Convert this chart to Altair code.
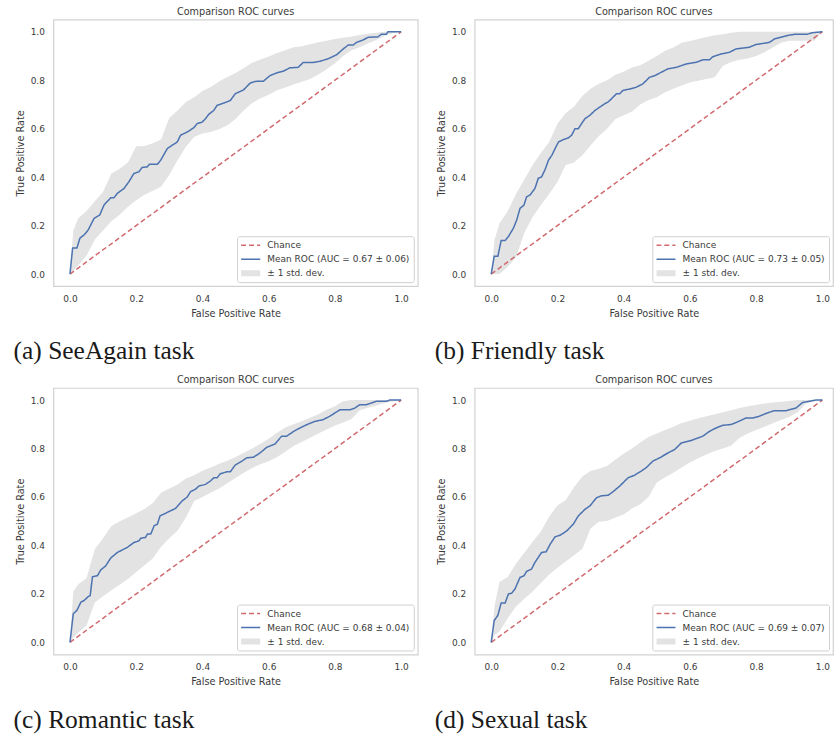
import altair as alt
import pandas as pd

# ---------------------------------------------------------------- data
CAPTIONS = ["(a) SeeAgain task", "(b) Friendly task", "(c) Romantic task", "(d) Sexual task"]
AUC_TEXT = ["0.67 ± 0.06", "0.73 ± 0.05", "0.68 ± 0.04", "0.69 ± 0.07"]

CHANCE_FPR = [0.0, 1.0]
CHANCE_TPR = [0.0, 1.0]

TICKS = [0.0, 0.2, 0.4, 0.6, 0.8, 1.0]

# common FPR grid of the ±1 std. dev. band
BAND_FPR = [0.0, 0.01, 0.025, 0.05, 0.075, 0.1, 0.125, 0.15, 0.175, 0.2, 0.225,
            0.25, 0.275, 0.3, 0.325, 0.35, 0.375, 0.4, 0.425, 0.45, 0.475, 0.5,
            0.525, 0.55, 0.575, 0.6, 0.625, 0.65, 0.675, 0.7, 0.725, 0.75, 0.775,
            0.8, 0.825, 0.85, 0.875, 0.9, 0.925, 0.95, 0.975, 1.0]

# (a) SeeAgain
A_FPR = [0, .008, .021, .03, .043, .055, .073, .09, .103, .123, .133, .143, .163, .178, .193,
         .208, .218, .233, .24, .264, .274, .294, .309, .324, .334, .354, .374, .384, .399, .409,
         .419, .434, .444, .459, .484, .499, .524, .544, .559, .584, .604, .624, .644, .664, .689,
         .704, .734, .754, .779, .805, .825, .84, .855, .865, .885, .9, .93, .94, .955, .96, 1.0]
A_TPR = [0, .107, .107, .148, .162, .182, .23, .244, .285, .315, .315, .333, .353, .381, .415,
         .422, .44, .442, .453, .453, .47, .518, .532, .545, .573, .586, .604, .621, .627, .641,
         .659, .675, .696, .703, .716, .744, .76, .788, .795, .796, .819, .83, .837, .851, .853,
         .873, .873, .878, .888, .905, .929, .945, .945, .956, .966, .977, .979, .99, .99, 1.0, 1.0]
A_UPPER = [0, .18, .23, .26, .30, .34, .415, .435, .46, .527, .528, .54, .555, .645, .675, .71,
           .73, .755, .772, .795, .813, .83, .85, .872, .885, .898, .912, .924, .936, .94, .948,
           .957, .963, .97, .975, .98, .987, .992, .996, 1, 1, 1]
A_LOWER = [0, .015, .035, .075, .143, .18, .218, .245, .278, .305, .327, .344, .36, .41, .47,
           .525, .566, .58, .586, .598, .614, .64, .676, .706, .725, .74, .758, .77, .782, .794,
           .805, .823, .845, .87, .9, .924, .936, .953, .966, .982, .995, 1.0]

# (b) Friendly
B_FPR = [0, .009, .02, .03, .042, .052, .067, .077, .087, .099, .107, .117, .132, .142, .152,
         .162, .173, .183, .193, .203, .218, .233, .243, .253, .263, .273, .283, .298, .313, .328,
         .343, .353, .363, .378, .388, .398, .419, .438, .458, .478, .493, .514, .534, .559, .574,
         .589, .619, .639, .659, .669, .694, .719, .739, .779, .799, .84, .855, .88, .9, .92,
         .955, .97, 1.0]
B_TPR = [0, .073, .073, .138, .138, .155, .189, .223, .271, .285, .319, .326, .353, .395, .401,
         .429, .47, .49, .518, .545, .555, .562, .573, .6, .6, .621, .641, .655, .675, .689,
         .703, .71, .723, .744, .744, .758, .764, .771, .785, .812, .818, .833, .847, .853, .86,
         .867, .874, .884, .884, .897, .908, .915, .929, .936, .947, .956, .97, .979, .986, .99,
         .99, .996, 1.0]
B_UPPER = [0, .14, .21, .26, .33, .39, .45, .5, .545, .62, .665, .69, .735, .765, .785, .8,
           .822, .835, .852, .862, .88, .9, .922, .935, .955, .962, .97, .978, .986, .99, .996,
           1, 1, 1, 1, 1, 1, 1, 1, 1, 1, 1]
B_LOWER = [0, 0, 0, .03, .07, .17, .235, .285, .33, .38, .45, .46, .49, .53, .57, .6, .64,
           .655, .67, .7, .718, .73, .75, .765, .778, .79, .798, .805, .812, .86, .875, .884,
           .89, .9, .915, .935, .955, .963, .963, .963, .963, 1.0]

# (c) Romantic
C_FPR = [0, .01, .021, .033, .043, .055, .061, .068, .083, .093, .108, .123, .143, .173, .193,
         .208, .214, .228, .234, .244, .254, .264, .272, .289, .299, .319, .339, .354, .364, .379,
         .389, .409, .424, .434, .444, .454, .474, .484, .499, .519, .534, .554, .574, .594, .619,
         .639, .654, .679, .699, .719, .739, .764, .784, .815, .845, .86, .875, .895, .925, .955,
         .965, 1.0]
C_TPR = [0, .118, .132, .166, .173, .189, .193, .271, .275, .299, .316, .348, .371, .392, .412,
         .419, .43, .433, .447, .447, .481, .488, .522, .533, .54, .553, .584, .6, .622, .632,
         .645, .652, .666, .679, .679, .696, .704, .704, .732, .748, .762, .764, .782, .805, .819,
         .851, .851, .874, .888, .901, .912, .919, .933, .96, .96, .967, .981, .981, .995, .995,
         1.0, 1.0]
C_UPPER = [0, .21, .24, .265, .385, .43, .48, .5, .515, .533, .55, .575, .618, .635, .652, .676,
           .69, .708, .722, .737, .75, .765, .783, .8, .82, .84, .865, .887, .9, .913, .927, .942,
           .96, .975, .995, 1, 1, 1, 1, 1, 1, 1]
C_LOWER = [0, .02, .04, .07, .165, .19, .215, .238, .262, .29, .318, .346, .395, .43, .462, .515,
           .583, .6, .617, .635, .657, .678, .7, .72, .735, .748, .764, .787, .81, .827, .845,
           .862, .879, .895, .907, .922, .958, .968, .978, .988, .995, 1.0]

# (d) Sexual
D_FPR = [0, .009, .02, .03, .042, .052, .062, .072, .087, .099, .107, .122, .132, .152, .166,
         .178, .193, .208, .228, .248, .263, .283, .298, .318, .333, .353, .368, .388, .413, .433,
         .453, .468, .488, .509, .534, .554, .574, .604, .619, .639, .659, .679, .699, .724, .744,
         .769, .789, .809, .834, .854, .89, .92, .94, .96, .98, 1.0]
D_TPR = [0, .09, .111, .162, .162, .2, .203, .221, .268, .275, .293, .303, .33, .371, .374,
         .405, .436, .442, .46, .488, .522, .549, .563, .597, .605, .607, .622, .645, .679, .69,
         .707, .721, .748, .762, .782, .796, .823, .833, .841, .851, .871, .885, .896, .899, .91,
         .926, .926, .933, .947, .956, .956, .967, .99, .995, 1.0, 1.0]
D_UPPER = [0, .15, .25, .27, .325, .37, .415, .458, .52, .565, .588, .64, .685, .707, .717, .728,
           .755, .778, .8, .825, .848, .862, .876, .89, .905, .915, .925, .933, .942, .95, .958,
           .967, .975, .98, .986, .99, .993, .996, 1, 1, 1, 1]
D_LOWER = [0, .03, .045, .1, .148, .18, .21, .245, .28, .308, .334, .36, .385, .47, .498, .501,
           .515, .528, .553, .57, .6, .66, .682, .7, .722, .742, .76, .775, .79, .8, .813, .845,
           .862, .876, .89, .904, .918, .93, .95, .985, .995, 1.0]

# ---------------------------------------------------------------- style
RED = "#d06a6e"
BLUE = "#4c72b0"
GREY = "#e3e3e3"
TEXT = "#3a3a3a"
SANS = "DejaVu Sans"


def roc_panel(fpr, tpr, upper, lower, auc, x_max, width):
    mean_name = f"Mean ROC (AUC = {auc})"
    names = ["Chance", mean_name, "± 1 std. dev."]
    lines = pd.DataFrame({
        "fpr": CHANCE_FPR + fpr,
        "tpr": CHANCE_TPR + tpr,
        "series": ["Chance"] * len(CHANCE_FPR) + [mean_name] * len(fpr),
    })
    band = pd.DataFrame({"fpr": BAND_FPR, "upper": upper, "lower": lower})

    xs = alt.Scale(domain=[-0.05, x_max], nice=False, zero=False)
    ys = alt.Scale(domain=[-0.05, 1.05], nice=False, zero=False)
    x_axis = alt.Axis(values=TICKS, format=".1f", title="False Positive Rate",
                      labelPadding=8, titlePadding=5)
    y_axis = alt.Axis(values=TICKS, format=".1f", title="True Positive Rate",
                      labelPadding=9, titlePadding=5)
    legend = alt.Legend(title=None)

    area = alt.Chart(band).mark_area(color=GREY, opacity=1).encode(
        x=alt.X("fpr:Q", scale=xs, axis=x_axis),
        y=alt.Y("upper:Q", scale=ys, axis=y_axis),
        y2="lower:Q",
    )
    curves = alt.Chart(lines).mark_line(clip=True).encode(
        x=alt.X("fpr:Q", scale=xs, axis=x_axis),
        y=alt.Y("tpr:Q", scale=ys, axis=y_axis),
        color=alt.Color("series:N", legend=legend,
                        scale=alt.Scale(domain=names, range=[RED, BLUE, GREY])),
        strokeDash=alt.StrokeDash("series:N", legend=legend,
                                  scale=alt.Scale(domain=names, range=[[5, 3], [1, 0], [1, 0]])),
        strokeWidth=alt.StrokeWidth("series:N", legend=legend,
                                    scale=alt.Scale(type="ordinal", domain=names, range=[1.5, 1.5, 6])),
    )
    return alt.layer(area, curves).properties(
        width=width, height=267,
        title=alt.TitleParams("Comparison ROC curves", font=SANS, fontSize=9.7,
                              fontWeight="normal", color=TEXT, offset=3),
    )


def captioned(panel, caption):
    return alt.vconcat(panel).properties(
        title=alt.TitleParams(caption, orient="bottom", anchor="start", font="Liberation Serif",
                              fontSize=25.5, fontWeight="normal", color="#1a1a1a",
                              baseline="alphabetic", offset=41, dx=-1)
    ).resolve_scale(color="independent", strokeDash="independent", strokeWidth="independent")


pa = captioned(roc_panel(A_FPR, A_TPR, A_UPPER, A_LOWER, AUC_TEXT[0], 1.05, 365), CAPTIONS[0])
pb = captioned(roc_panel(B_FPR, B_TPR, B_UPPER, B_LOWER, AUC_TEXT[1], 1.032, 359), CAPTIONS[1])
pc = captioned(roc_panel(C_FPR, C_TPR, C_UPPER, C_LOWER, AUC_TEXT[2], 1.05, 365), CAPTIONS[2])
pd_ = captioned(roc_panel(D_FPR, D_TPR, D_UPPER, D_LOWER, AUC_TEXT[3], 1.032, 359), CAPTIONS[3])

indep = dict(color="independent", strokeDash="independent", strokeWidth="independent")
row1 = alt.hconcat(pa, pb, spacing=16).resolve_scale(**indep)
row2 = alt.hconcat(pc, pd_, spacing=16).resolve_scale(**indep)

chart = alt.vconcat(row1, row2, spacing=9).resolve_scale(**indep).properties(
    padding={"left": 13.5, "top": 5, "right": 0, "bottom": 0},
    background="white",
).configure_view(
    stroke="#d2d2d2", strokeWidth=1.2,
).configure_axis(
    domain=False, ticks=False, grid=False,
    labelFont=SANS, labelFontSize=9, labelColor=TEXT,
    titleFont=SANS, titleFontSize=9.7, titleFontWeight="normal", titleColor=TEXT,
).configure_legend(
    orient="bottom-right", offset=4, padding=4, cornerRadius=2,
    fillColor="white", strokeColor="#d0d0d0",
    labelFont=SANS, labelFontSize=9, labelColor=TEXT,
    symbolType="M-6.4,0H6.4", symbolSize=9, symbolOffset=5.1, labelOffset=12.2,
    clipHeight=10, rowPadding=4,
)

chart.save("out.html", embed_options={"renderer": "svg", "actions": False})
